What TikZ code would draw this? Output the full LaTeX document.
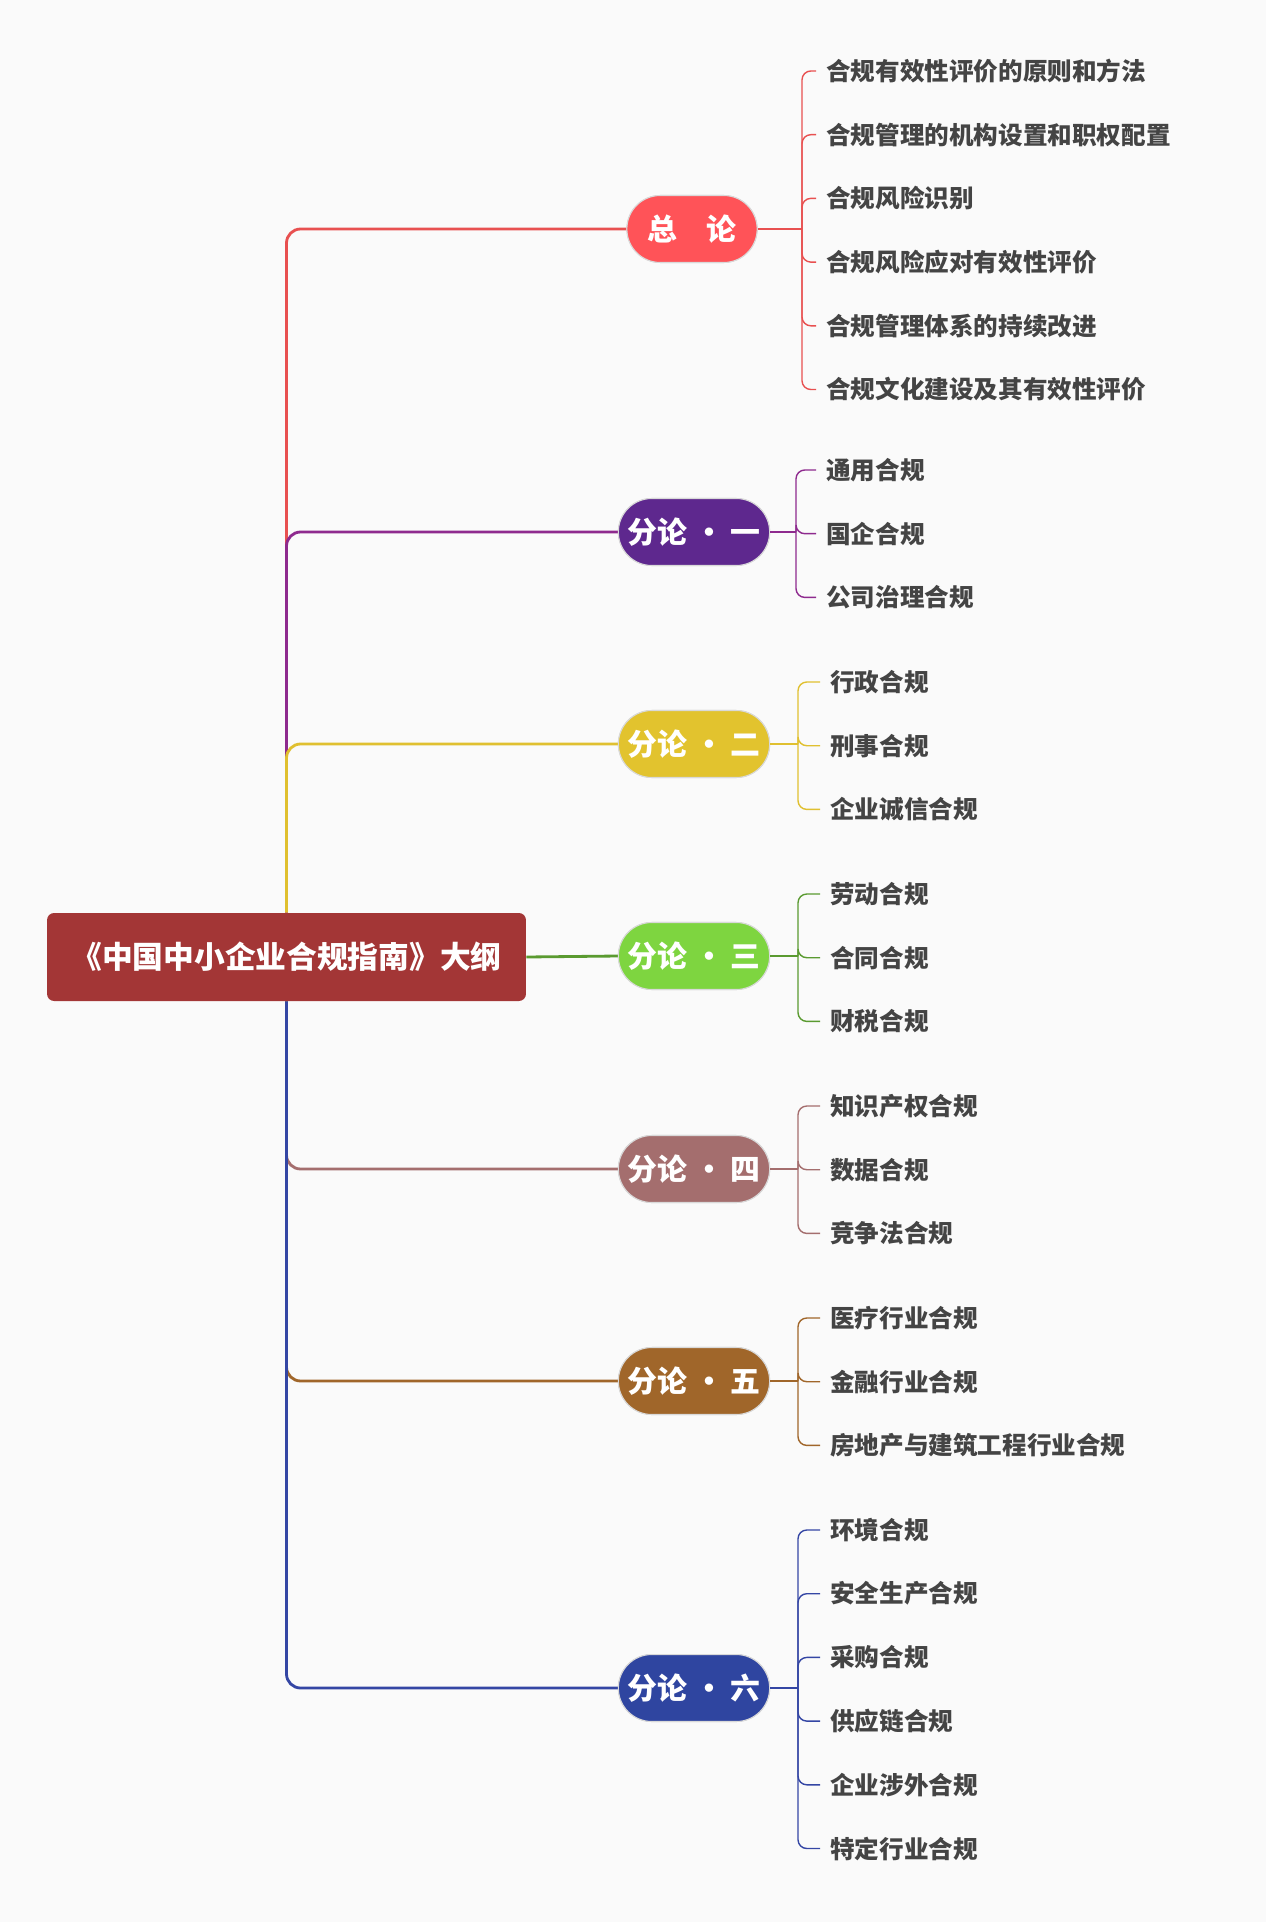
\documentclass[tikz,border=0pt]{standalone}
\usepackage{fontspec}
\newfontfamily\cjk{Noto Sans CJK SC}
\usetikzlibrary{positioning,shapes.misc}
\definecolor{bgc}{HTML}{FAFAFA}
\definecolor{rootc}{HTML}{A33636}
\definecolor{txtc}{HTML}{444444}
\definecolor{cA}{HTML}{FF5358}\definecolor{lA}{HTML}{E85050}
\definecolor{cB}{HTML}{5E288E}\definecolor{lB}{HTML}{8E2A8E}
\definecolor{cC}{HTML}{E2C32E}\definecolor{lC}{HTML}{E0C030}
\definecolor{cD}{HTML}{7ED540}\definecolor{lD}{HTML}{5A9A30}
\definecolor{cE}{HTML}{A46E6E}\definecolor{lE}{HTML}{A46E6E}
\definecolor{cF}{HTML}{A0662A}\definecolor{lF}{HTML}{A0662A}
\definecolor{cG}{HTML}{2F45A0}\definecolor{lG}{HTML}{3446A4}
\tikzset{
  rootbox/.style={fill=rootc, rounded corners=4pt, minimum width=9.58cm, minimum height=1.76cm, text=white, font=\cjk\bfseries\fontsize{17.5}{20}\selectfont},
  topicbox/.style={rounded rectangle, draw=black!15, line width=0.6pt, minimum width=2.9cm, minimum height=1.34cm, text=white, font=\cjk\bfseries\fontsize{17}{20}\selectfont},
  leaf/.style={anchor=west, inner xsep=0.2cm, text=txtc, font=\cjk\bfseries\fontsize{14}{16}\selectfont},
  branch/.style={line width=1.6pt, rounded corners=8pt},
  twig/.style={line width=0.8pt, rounded corners=5pt}
}
\begin{document}
\begin{tikzpicture}[x=0.02cm, y=-0.02cm]
  \fill[bgc] (0,0) rectangle (1266,1922);
  \useasboundingbox (0,0) rectangle (1266,1922);

  % root
  \node[rootbox] (root) at (286.5,957) {《中国中小企业合规指南》大纲};

  % topics
  \node[topicbox, fill=cA, minimum width=2.84cm] (tA) at (692,229) {总\quad 论};
  \node[topicbox, fill=cB] (tB) at (694,532) {分论 · 一};
  \node[topicbox, fill=cC] (tC) at (694,744) {分论 · 二};
  \node[topicbox, fill=cD] (tD) at (694,956) {分论 · 三};
  \node[topicbox, fill=cE] (tE) at (694,1169) {分论 · 四};
  \node[topicbox, fill=cF] (tF) at (694,1381) {分论 · 五};
  \node[topicbox, fill=cG] (tG) at (694,1688) {分论 · 六};

  % branches from the root
  \begin{scope}[on background layer/.style={}]
    \draw[branch, lA] (root.north) |- (tA.west);
    \draw[branch, lB] (root.north) |- (tB.west);
    \draw[branch, lC] (root.north) |- (tC.west);
    \draw[branch, lD] (root.east) -- (tD.west);
    \draw[branch, lE] (root.south) |- (tE.west);
    \draw[branch, lF] (root.south) |- (tF.west);
    \draw[branch, lG] (root.south) |- (tG.west);
  \end{scope}
  \node[topicbox, fill=cA, minimum width=2.84cm] at (tA) {总\quad 论};
  \node[topicbox, fill=cB] at (tB) {分论 · 一};
  \node[topicbox, fill=cC] at (tC) {分论 · 二};
  \node[topicbox, fill=cD] at (tD) {分论 · 三};
  \node[topicbox, fill=cE] at (tE) {分论 · 四};
  \node[topicbox, fill=cF] at (tF) {分论 · 五};
  \node[topicbox, fill=cG] at (tG) {分论 · 六};

  % leaves
  \foreach \t/\c/\kx/\lx/\y/\items in {
    A/lA/802/816/71/{合规有效性评价的原则和方法,合规管理的机构设置和职权配置,合规风险识别,合规风险应对有效性评价,合规管理体系的持续改进,合规文化建设及其有效性评价},
    B/lB/796/816/470/{通用合规,国企合规,公司治理合规},
    C/lC/798/820/682/{行政合规,刑事合规,企业诚信合规},
    D/lD/798/820/894/{劳动合规,合同合规,财税合规},
    E/lE/798/820/1106/{知识产权合规,数据合规,竞争法合规},
    F/lF/798/820/1318/{医疗行业合规,金融行业合规,房地产与建筑工程行业合规},
    G/lG/798/820/1530/{环境合规,安全生产合规,采购合规,供应链合规,企业涉外合规,特定行业合规}} {
    \coordinate (k\t) at (\kx, 0 |- t\t);
    \draw[twig, \c] (t\t.east) -- (k\t);
    \foreach \leafname [count=\i from 0] in \items {
      \node[leaf] (l\t\i) at (\lx, \y+63.7*\i) {\leafname};
      \draw[twig, \c] (k\t) |- (l\t\i.west);
    }
  }
\end{tikzpicture}
\end{document}
